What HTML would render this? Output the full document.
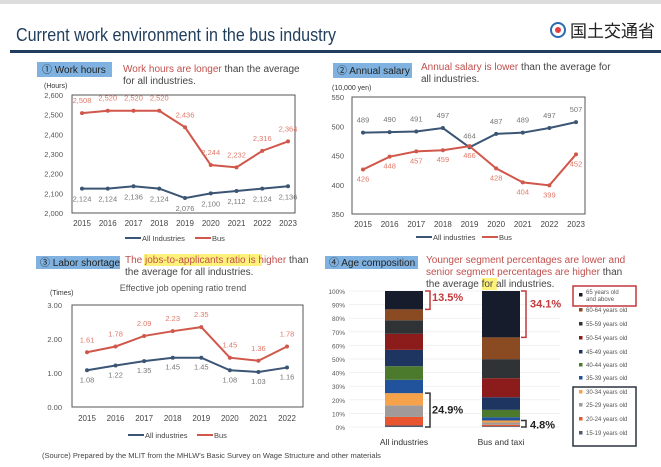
<!DOCTYPE html>
<html><head><meta charset="utf-8">
<style>
body{margin:0;width:661px;height:467px;overflow:hidden;background:#fff;font-family:"Liberation Sans","Noto Sans CJK JP",sans-serif}
svg{display:block}
</style></head><body>
<svg id="s" width="661" height="467" xmlns="http://www.w3.org/2000/svg" font-family="Liberation Sans, Noto Sans CJK JP, sans-serif">
<rect x="0" y="0" width="661" height="4" fill="#ddd"/>
<text x="16" y="41" font-size="18" fill="#1f3d5c" textLength="320" lengthAdjust="spacingAndGlyphs">Current work environment in the bus industry</text>
<rect x="10" y="50" width="651" height="3" fill="#1f3d5c"/>
<g>
<circle cx="558" cy="30" r="7" fill="none" stroke="#2a6bb0" stroke-width="2"/>
<circle cx="558" cy="30" r="3" fill="#e04040"/>
<text x="570" y="37" font-size="17" fill="#222">国土交通省</text>
</g>
<g>
<rect x="37" y="62" width="75" height="15" fill="#7fb2e0"/>
<text x="42" y="73" font-size="10" fill="#222">① Work hours</text>
<text x="123" y="72" font-size="10" fill="#c0504d">Work hours are longer <tspan fill="#444">than the average</tspan></text>
<text x="123" y="84" font-size="10" fill="#444">for all industries.</text>
</g>
<g>
<rect x="333" y="63" width="79" height="15" fill="#7fb2e0"/>
<text x="337" y="74" font-size="10" fill="#222">② Annual salary</text>
<text x="421" y="70" font-size="10" fill="#c0504d">Annual salary is lower <tspan fill="#444">than the average for</tspan></text>
<text x="421" y="82" font-size="10" fill="#444">all industries.</text>
</g>
<g>
<rect x="36" y="256" width="84" height="13" fill="#7fb2e0"/>
<text x="40" y="266" font-size="10" fill="#222">③ Labor shortage</text>
<rect x="144" y="254" width="118" height="12" fill="#fff27a"/>
<text x="125" y="263" font-size="10" fill="#c0504d">The jobs-to-applicants ratio is higher <tspan fill="#444">than</tspan></text>
<text x="125" y="275" font-size="10" fill="#444">the average for all industries.</text>
<text x="183" y="291" font-size="9" fill="#555" text-anchor="middle">Effective job opening ratio trend</text>
</g>
<g>
<rect x="325" y="256" width="93" height="13" fill="#7fb2e0"/>
<text x="329" y="266" font-size="10" fill="#222">④ Age composition</text>
<rect x="482" y="278" width="15" height="12" fill="#fff27a"/>
<text x="426" y="263" font-size="10" fill="#c0504d">Younger segment percentages are lower and</text>
<text x="426" y="275" font-size="10" fill="#c0504d">senior segment percentages are higher <tspan fill="#444">than</tspan></text>
<text x="426" y="287" font-size="10" fill="#444">the average for all industries.</text>
</g>
<text x="42" y="458" font-size="7.5" fill="#444">(Source) Prepared by the MLIT from the MHLW's Basic Survey on Wage Structure and other materials</text>
<g id="g"></g>
</svg>
<script>
// Chart 1: work hours
const years1 = ["2015","2016","2017","2018","2019","2020","2021","2022","2023"];
const hoursAll = [2124,2124,2136,2124,2076,2100,2112,2124,2136];
const hoursBus = [2508,2520,2520,2520,2436,2244,2232,2316,2364];
const hoursTicks = [2000,2100,2200,2300,2400,2500,2600];
// Chart 2: annual salary
const salaryAll = [489,490,491,497,464,487,489,497,507];
const salaryBus = [426,448,457,459,466,428,404,399,452];
const salaryTicks = [350,400,450,500,550];
// Chart 3: job opening ratio
const years3 = ["2015","2016","2017","2018","2019","2020","2021","2022"];
const ratioAll = [1.08,1.22,1.35,1.45,1.45,1.08,1.03,1.16];
const ratioBus = [1.61,1.78,2.09,2.23,2.35,1.45,1.36,1.78];
const ratioTicks = [0,1,2,3];
// Chart 4: age composition (bottom to top)
const ageGroups = ["15-19 years old","20-24 years old","25-29 years old","30-34 years old","35-39 years old","40-44 years old","45-49 years old","50-54 years old","55-59 years old","60-64 years old","65 years old and above"];
const ageAll = [1.1,6.3,8.5,9.0,9.8,10,12,11.8,10,8,13.5];
const ageBus = [0.6,1.0,1.7,1.5,2.4,5.4,9.3,14,14,16,34.1];
const pctTicks = [0,10,20,30,40,50,60,70,80,90,100];

const NS="http://www.w3.org/2000/svg", G=document.getElementById('g');
function mk(t,a,txt){const e=document.createElementNS(NS,t);for(const k in a)e.setAttribute(k,a[k]);if(txt!==undefined)e.textContent=txt;G.appendChild(e);return e;}
const BLUE="#3b5574", RED="#d0574a";

function lineChart(o){
  const sx=i=>o.x0+i*(o.x1-o.x0)/(o.cats.length-1);
  const sy=v=>o.yb+(v-o.vmin)/(o.vmax-o.vmin)*(o.yt-o.yb);
  if(o.box){const r=mk('rect',{x:o.box[0],y:o.box[1],width:o.box[2],height:o.box[3],fill:'none',stroke:'#555','stroke-width':1});
    }
  o.ticks.forEach(v=>{
    const t=mk('text',{x:o.lx,y:sy(v)+3,'font-size':7.5,fill:'#555','text-anchor':'end'},o.fmt(v));
    
  });
  const u=mk('text',{x:o.ux,y:o.uy,'font-size':7,fill:'#333'},o.unit);
  
  o.cats.forEach((c,i)=>{const t=mk('text',{x:sx(i),y:o.catY,'font-size':8,fill:'#444','text-anchor':'middle'},c);
    });
  [[o.a,BLUE,o.aOff,'all-industries'],[o.b,RED,o.bOff,'bus']].forEach(([d,col,off,nm])=>{
    const p=mk('polyline',{points:d.map((v,i)=>sx(i)+','+sy(v)).join(' '),fill:'none',stroke:col,'stroke-width':2});
    
    d.forEach((v,i)=>{
      const c=mk('circle',{cx:sx(i),cy:sy(v),r:2,fill:col});
      
      const oo=typeof off==='function'?off(i):off;
      const t=mk('text',{x:sx(i),y:sy(v)+oo,'font-size':7.5,fill:col==RED?'#e07a6a':'#777','text-anchor':'middle'},o.lab(v));
      
    });
  });
  const lx=o.legX;
  const l1=mk('line',{x1:lx,x2:lx+16,y1:o.legY,y2:o.legY,stroke:BLUE,'stroke-width':2});
  
  const t1=mk('text',{x:lx+17,y:o.legY+3,'font-size':7.5,fill:'#444'},o.legA);
  
  const l2=mk('line',{x1:o.legX2,x2:o.legX2+16,y1:o.legY,y2:o.legY,stroke:RED,'stroke-width':2});
  
  const t2=mk('text',{x:o.legX2+17,y:o.legY+3,'font-size':7.5,fill:'#444'},'Bus');
  
}
const comma=v=>v.toLocaleString('en-US');
lineChart({id:'work-hours',cats:years1,a:hoursAll,b:hoursBus,ticks:hoursTicks,vmin:2000,vmax:2600,x0:82,x1:288,yt:95,yb:213,
  box:[72,95,223,118],lx:63,fmt:comma,lab:comma,unit:'(Hours)',ux:44,uy:88,catY:226,aOff:13,bOff:-10,
  legX:125,legX2:195,legY:238,legA:'All Industries'});
lineChart({id:'annual-salary',cats:years1,a:salaryAll,b:salaryBus,ticks:salaryTicks,vmin:350,vmax:550,x0:363,x1:576,yt:97,yb:214,
  box:[352,97,233,117],lx:344,fmt:String,lab:String,unit:'(10,000 yen)',ux:332,uy:90,catY:227,
  aOff:i=>i==4?-9:-10,bOff:12,legX:416,legX2:482,legY:237,legA:'All industries'});
lineChart({id:'job-ratio',cats:years3,a:ratioAll,b:ratioBus,ticks:ratioTicks,vmin:0,vmax:3,x0:87,x1:287,yt:305,yb:407,
  box:[72,305,231,102],lx:62,fmt:v=>v.toFixed(2),lab:v=>v.toFixed(2),unit:'(Times)',ux:50,uy:295,catY:421,
  aOff:12,bOff:-10,legX:128,legX2:197,legY:435,legA:'All industries'});

// Chart 4
const ageColors=["#4e5b6e","#e8552e","#a09a9a","#f5a24a","#21529c","#4c7a2c","#1d3560","#8c1c1c","#303336","#8a4a22","#161c2c"];
const y0=427,y100=291,py=v=>y0-(v/100)*(y0-y100);
pctTicks.forEach(v=>{const t=mk('text',{x:345,y:py(v)+3,'font-size':6.5,fill:'#555','text-anchor':'end'},v+'%');
  
  const l=mk('line',{x1:349,x2:560,y1:py(v),y2:py(v),stroke:'#f1f1f1'});});
function stack(d,x,w,nm){let c=0;d.forEach((v,i)=>{const r=mk('rect',{x:x,y:py(c+v),width:w,height:py(c)-py(c+v),fill:ageColors[i]});
  c+=v;});}
stack(ageAll,385,38,'all-industries-bar');stack(ageBus,482,38,'bus-taxi-bar');
[['All industries',404],['Bus and taxi',501]].forEach(([s,x])=>{const t=mk('text',{x:x,y:445,'font-size':8.5,fill:'#333','text-anchor':'middle'},s);
  });
function brk(x,ya,yb,col){const p=mk('path',{d:`M${x},${ya} h5 V${yb} h-5`,fill:'none',stroke:col,'stroke-width':1.5});}
const sum=(a,n)=>a.slice(0,n).reduce((s,v)=>s+v,0);
brk(425,py(100),py(100-ageAll[10]),'#c0393b');brk(425,py(sum(ageAll,4)),py(0),'#333');
brk(521,py(100),py(100-ageBus[10]),'#c0393b');brk(521,py(sum(ageBus,4)),py(0),'#333');
[[432,py(100)+10,'13.5%','#c0393b'],[432,py(12)+3,'24.9%','#222'],[530,py(88),'34.1%','#c0393b'],[530,py(1)+3,'4.8%','#222']].forEach(([x,y,s,c])=>{
  const t=mk('text',{x:x,y:y,'font-size':11,'font-weight':'bold',fill:c},s);});
const lr=mk('rect',{x:573,y:286,width:63,height:20,fill:'none',stroke:'#c0393b','stroke-width':1.5});
const lb=mk('rect',{x:573,y:387,width:63,height:59,fill:'none',stroke:'#2a3340','stroke-width':1.5});
const legY=[296,311,325,339,353,366,379,393,406,420,434];
for(let k=0;k<11;k++){const i=10-k,y=legY[k];
  const s=mk('rect',{x:579,y:y-3,width:3.5,height:3.5,fill:ageColors[i]});
  if(i==10){const t=mk('text',{x:586,y:y-2,'font-size':6,fill:'#555'},'65 years old');
    const t2=mk('text',{x:586,y:y+5,'font-size':6,fill:'#555'},'and above');}
  else{const t=mk('text',{x:586,y:y+1,'font-size':6,fill:'#555'},ageGroups[i]);}
}
</script>
</body></html>
